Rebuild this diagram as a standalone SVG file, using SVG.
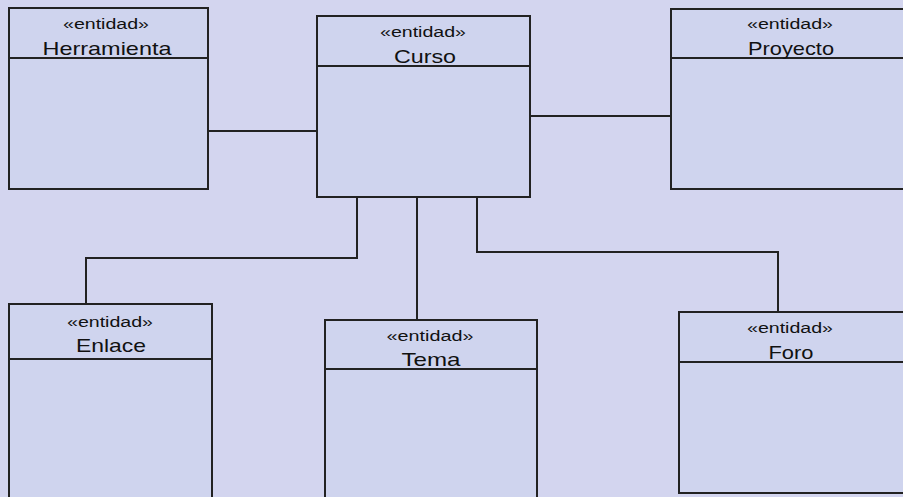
<svg xmlns="http://www.w3.org/2000/svg" width="903" height="497" viewBox="0 0 903 497">
<style>
.box{fill:#cfd4ee;stroke:#222;stroke-width:2}
.div{stroke:#222;stroke-width:2}
.st{font-family:"Liberation Sans",Arial,sans-serif;font-size:14px;fill:#111;text-anchor:middle}
.nm{font-family:"Liberation Sans",Arial,sans-serif;font-size:19px;fill:#111;text-anchor:middle}
.cn{fill:none;stroke:#222;stroke-width:2}
</style>
<rect x="0" y="0" width="903" height="497" fill="#d3d5ef"/>
<g id="connectors">
<polyline class="cn" points="208,131 317,131"/>
<polyline class="cn" points="530,116 671,116"/>
<polyline class="cn" points="357,197 357,258 86,258 86,304"/>
<polyline class="cn" points="417,197 417,320"/>
<polyline class="cn" points="477,197 477,252 778,252 778,312"/>
</g>
<g id="herramienta">
<rect class="box" x="9" y="8" width="199" height="181"/>
<line class="div" x1="9" y1="58" x2="208" y2="58"/>
<text class="st" x="106" y="29" textLength="86" lengthAdjust="spacingAndGlyphs">«entidad»</text>
<text class="nm" x="107" y="55" textLength="129" lengthAdjust="spacingAndGlyphs">Herramienta</text>
</g>
<g id="curso">
<rect class="box" x="317" y="16" width="213" height="181" fill="#cbd4ee"/>
<line class="div" x1="317" y1="66" x2="530" y2="66"/>
<text class="st" x="423" y="37" textLength="86" lengthAdjust="spacingAndGlyphs">«entidad»</text>
<text class="nm" x="425" y="63" textLength="62" lengthAdjust="spacingAndGlyphs">Curso</text>
</g>
<g id="proyecto">
<rect class="box" x="671" y="9" width="240" height="180"/>
<line class="div" x1="671" y1="58" x2="903" y2="58"/>
<text class="st" x="790" y="29" textLength="86" lengthAdjust="spacingAndGlyphs">«entidad»</text>
<text class="nm" x="791" y="55" textLength="86" lengthAdjust="spacingAndGlyphs">Proyecto</text>
</g>
<g id="enlace">
<rect class="box" x="9" y="304" width="203" height="200"/>
<line class="div" x1="9" y1="359" x2="212" y2="359"/>
<text class="st" x="110" y="327" textLength="86" lengthAdjust="spacingAndGlyphs">«entidad»</text>
<text class="nm" x="111" y="352" textLength="70" lengthAdjust="spacingAndGlyphs">Enlace</text>
</g>
<g id="tema">
<rect class="box" x="325" y="320" width="212" height="190" fill="#cbd4ee"/>
<line class="div" x1="325" y1="369" x2="537" y2="369"/>
<text class="st" x="430" y="341" textLength="87" lengthAdjust="spacingAndGlyphs">«entidad»</text>
<text class="nm" x="431" y="366" textLength="59" lengthAdjust="spacingAndGlyphs">Tema</text>
</g>
<g id="foro">
<rect class="box" x="679" y="312" width="240" height="181"/>
<line class="div" x1="679" y1="362" x2="903" y2="362"/>
<text class="st" x="790" y="333" textLength="86" lengthAdjust="spacingAndGlyphs">«entidad»</text>
<text class="nm" x="791" y="359" textLength="45" lengthAdjust="spacingAndGlyphs">Foro</text>
</g>
</svg>
